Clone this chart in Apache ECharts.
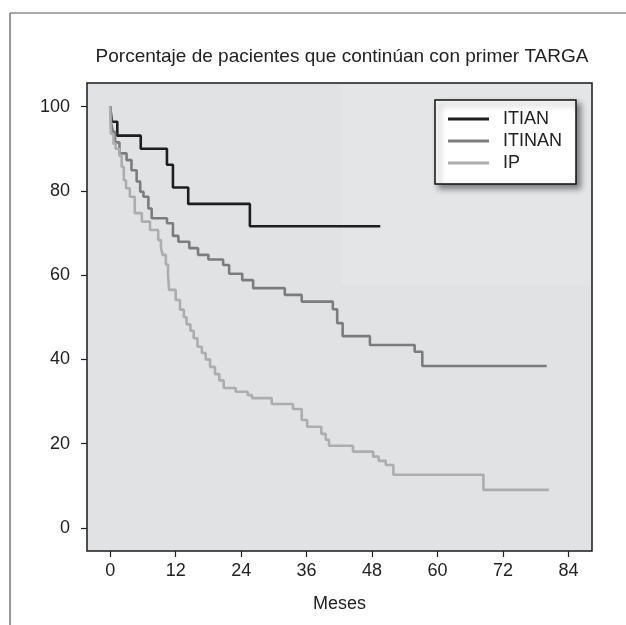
<!DOCTYPE html>
<html>
<head>
<meta charset="utf-8">
<script src="https://cdn.jsdelivr.net/npm/echarts@6/dist/echarts.min.js"></script>
<style>
  html, body { margin: 0; padding: 0; background: #fff; }
  #main { width: 626px; height: 625px; }
</style>
</head>
<body>
<div id="main"></div>
<script>
// curvas de supervivencia (mes del evento, % que continúa)
var seriesNames = ['ITIAN', 'ITINAN', 'IP'];
var itianData = [
  [0, 100], [0.3, 96.4], [1.3, 93.1], [5.6, 90.0], [10.4, 86.2], [11.5, 80.8],
  [14.3, 76.9], [25.6, 71.6], [49.5, 71.6]
];
var itinanData = [
  [0, 100], [0.2, 96.0], [0.5, 94.0], [0.9, 91.5], [1.7, 88.9], [3.0, 87.3],
  [3.9, 84.9], [4.85, 82.2], [5.5, 79.8], [6.1, 78.6], [7.0, 75.8], [7.6, 73.5],
  [10.4, 72.3], [11.5, 69.3], [12.5, 67.9], [14.5, 66.4], [16.1, 64.8], [18.0, 63.7],
  [20.7, 62.4], [21.8, 60.3], [24.2, 58.8], [26.2, 56.9], [32.0, 55.3], [35.1, 53.7],
  [40.8, 51.9], [41.6, 48.6], [42.6, 45.5], [47.6, 43.4], [55.8, 41.8], [57.2, 38.4],
  [80.0, 38.4]
];
var ipData = [
  [0, 100], [0.05, 96.0], [0.15, 93.5], [0.6, 91.2], [1.0, 90.0], [1.7, 88.3],
  [2.1, 85.7], [2.5, 82.5], [2.9, 80.6], [3.6, 78.6], [4.5, 74.7], [5.8, 72.7],
  [7.3, 70.7], [8.8, 68.3], [9.3, 66.5], [9.6, 64.8], [10.2, 62.5], [10.6, 60.0],
  [10.8, 56.5], [12.0, 54.1], [12.8, 51.8], [13.5, 50.0], [14.0, 48.3], [14.7, 46.8],
  [15.3, 45.0], [16.0, 43.0], [16.8, 41.5], [17.5, 40.0], [18.3, 38.2], [19.2, 36.5],
  [20.0, 35.0], [20.8, 33.2], [23.0, 32.3], [25.2, 31.5], [26.0, 30.8], [29.6, 29.4],
  [33.5, 28.2], [35.1, 25.6], [36.1, 24.0], [38.7, 22.3], [39.5, 20.9], [40.1, 19.5],
  [44.5, 18.1], [48.2, 16.9], [49.2, 15.9], [50.5, 14.9], [51.9, 12.6], [68.4, 9.0],
  [80.4, 9.0]
];
var xTicks = [0, 12, 24, 36, 48, 60, 72, 84];
var yTicks = [0, 20, 40, 60, 80, 100];
var colors = ['#1e1e1e', '#7c7c7c', '#adadad'];

var font = '"Liberation Sans", Arial, Helvetica, sans-serif';
var chart = echarts.init(document.getElementById('main'));

function stepSeries(name, data, i) {
  return {
    name: name,
    type: 'line',
    step: 'end',
    data: data,
    showSymbol: false,
    symbol: 'none',
    color: colors[i],
    lineStyle: { color: colors[i], width: 2.6 },
    animation: false
  };
}

chart.setOption({
  animation: false,
  textStyle: { fontFamily: font },
  title: {
    text: 'Porcentaje de pacientes que continúan con primer TARGA',
    left: 337,
    textAlign: 'center',
    top: 42,
    textStyle: { fontFamily: font, fontSize: 19, fontWeight: 'normal', color: '#222' }
  },
  grid: {
    left: 87, top: 83, right: 34, bottom: 74,
    show: true,
    backgroundColor: '#e1e2e4',
    borderColor: '#1a1a1a',
    borderWidth: 1.5
  },
  legend: {
    orient: 'vertical',
    left: 435,
    top: 100,
    data: seriesNames,
    icon: 'rect',
    itemWidth: 41,
    itemHeight: 3,
    itemGap: 4,
    padding: [10, 14, 12, 13],
    backgroundColor: '#fff',
    borderColor: '#111',
    borderWidth: 1.5,
    shadowBlur: 6,
    shadowOffsetX: 4,
    shadowOffsetY: 4,
    shadowColor: 'rgba(0,0,0,0.45)',
    textStyle: { fontFamily: font, fontSize: 18, lineHeight: 18, color: '#222', padding: [0, 0, 0, 9] }
  },
  xAxis: {
    type: 'value',
    min: -4.25,
    max: 88.3,
    name: 'Meses',
    nameLocation: 'middle',
    nameGap: 44,
    nameTextStyle: { fontFamily: font, fontSize: 18, color: '#222' },
    axisLine: { show: false, onZero: false },
    splitLine: { show: false },
    axisTick: { show: true, length: 6, customValues: xTicks, lineStyle: { color: '#222', width: 1.2 } },
    axisLabel: { customValues: xTicks, margin: 11, fontFamily: font, fontSize: 18, color: '#222' }
  },
  yAxis: {
    type: 'value',
    min: -5.5,
    max: 105.6,
    axisLine: { show: false, onZero: false },
    splitLine: { show: false },
    axisTick: { show: true, length: 6, customValues: yTicks, lineStyle: { color: '#222', width: 1.2 } },
    axisLabel: { customValues: yTicks, margin: 17, fontFamily: font, fontSize: 18, color: '#222' }
  },
  graphic: [
    { type: 'line', shape: { x1: 10, y1: 13, x2: 626, y2: 13 }, style: { stroke: '#555', lineWidth: 1.2 } },
    { type: 'line', shape: { x1: 10, y1: 13, x2: 10, y2: 625 }, style: { stroke: '#555', lineWidth: 1.2 } },
    { type: 'rect', z: 1, shape: { x: 341, y: 84, width: 250, height: 201 }, style: { fill: 'rgba(255,255,255,0.12)' } }
  ],
  series: [
    stepSeries('ITIAN', itianData, 0),
    stepSeries('ITINAN', itinanData, 1),
    stepSeries('IP', ipData, 2)
  ]
});
</script>
</body>
</html>
